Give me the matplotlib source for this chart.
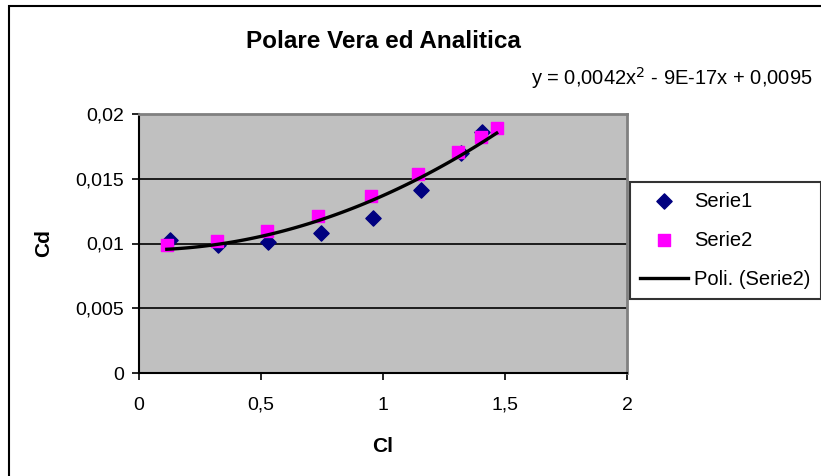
import numpy as np
import matplotlib.pyplot as plt
from matplotlib.patches import Rectangle
from matplotlib.ticker import FuncFormatter

plt.rcParams['font.family'] = ['Liberation Sans', 'DejaVu Sans']

# polare vera (Serie1) e analitica (Serie2)
cl_1 = [0.127, 0.323, 0.530, 0.745, 0.958, 1.155, 1.318, 1.407]
cd_1 = [0.0103, 0.0099, 0.0101, 0.0108, 0.0120, 0.0141, 0.0170, 0.0186]

cl_2 = [0.114, 0.318, 0.523, 0.735, 0.950, 1.145, 1.309, 1.400, 1.466]
cd_2 = [0.0099, 0.0102, 0.0110, 0.0121, 0.0137, 0.0154, 0.0171, 0.0182, 0.0189]

# coefficienti della linea di tendenza (Serie2)
coeff = [0.0042, -9e-17, 0.0095]

x_ticks = [0, 0.5, 1, 1.5, 2]
y_ticks = [0, 0.005, 0.01, 0.015, 0.02]


def virgola(v, pos):
    s = ('%g' % v)
    return s.replace('.', ',')


fig = plt.figure(figsize=(8.21, 4.76), dpi=100)
fig.patch.set_facecolor('white')

# bordo dell'area del grafico
fig.patches.append(Rectangle((9 / 821, -0.05), 1.0, 1 - 6 / 476 + 0.05,
                             transform=fig.transFigure, fill=False,
                             edgecolor='black', linewidth=1.5))

ax = fig.add_axes([139 / 821, 1 - 373 / 476, (627 - 139) / 821, (373 - 114) / 476])
ax.set_facecolor('#C0C0C0')

ax.scatter(cl_1, cd_1, marker='D', s=60, color='#000080', zorder=3, label='Serie1')
ax.scatter(cl_2, cd_2, marker='s', s=70, color='#FF00FF', zorder=4, label='Serie2')

xx = np.linspace(min(cl_2), max(cl_2), 100)
ax.plot(xx, np.polyval(coeff, xx), color='black', lw=2.4, zorder=5, label='Poli. (Serie2)')

ax.set_xlim(0, 2)
ax.set_ylim(0, 0.02)
ax.set_xticks(x_ticks)
ax.set_yticks(y_ticks)
ax.xaxis.set_major_formatter(FuncFormatter(virgola))
ax.yaxis.set_major_formatter(FuncFormatter(virgola))
ax.tick_params(direction='out', length=5, width=1.2, labelsize=14, pad=6, colors='black')
ax.tick_params(axis='x', pad=12)
ax.grid(axis='y', color='black', lw=1.2)
ax.set_axisbelow(True)

for s in ['top', 'right']:
    ax.spines[s].set_color('#808080')
    ax.spines[s].set_linewidth(2)
for s in ['left', 'bottom']:
    ax.spines[s].set_color('black')
    ax.spines[s].set_linewidth(1.5)

ax.set_xlabel('Cl', fontsize=15, fontweight='bold', labelpad=17)
ax.set_ylabel('Cd', fontsize=15, fontweight='bold', labelpad=16)

fig.text(383 / 821, 1 - 42 / 476, 'Polare Vera ed Analitica', ha='center', va='center',
         fontsize=17.5, fontweight='bold')
fig.text(813 / 821, 1 - 78 / 476, r'y = 0,0042x$^{2}$ - 9E-17x + 0,0095', ha='right',
         va='center', fontsize=14.5)

leg = ax.legend(loc='upper left', bbox_to_anchor=(630 / 821, 1 - 182 / 476, 185 / 821, 0.001),
                bbox_transform=fig.transFigure, fontsize=14.5, frameon=True, fancybox=False,
                edgecolor='black', borderaxespad=0, handlelength=2.4, labelspacing=1.0,
                borderpad=0.5, handletextpad=0.3)
leg.get_frame().set_linewidth(1.5)

fig.savefig('out.png', dpi=100)
